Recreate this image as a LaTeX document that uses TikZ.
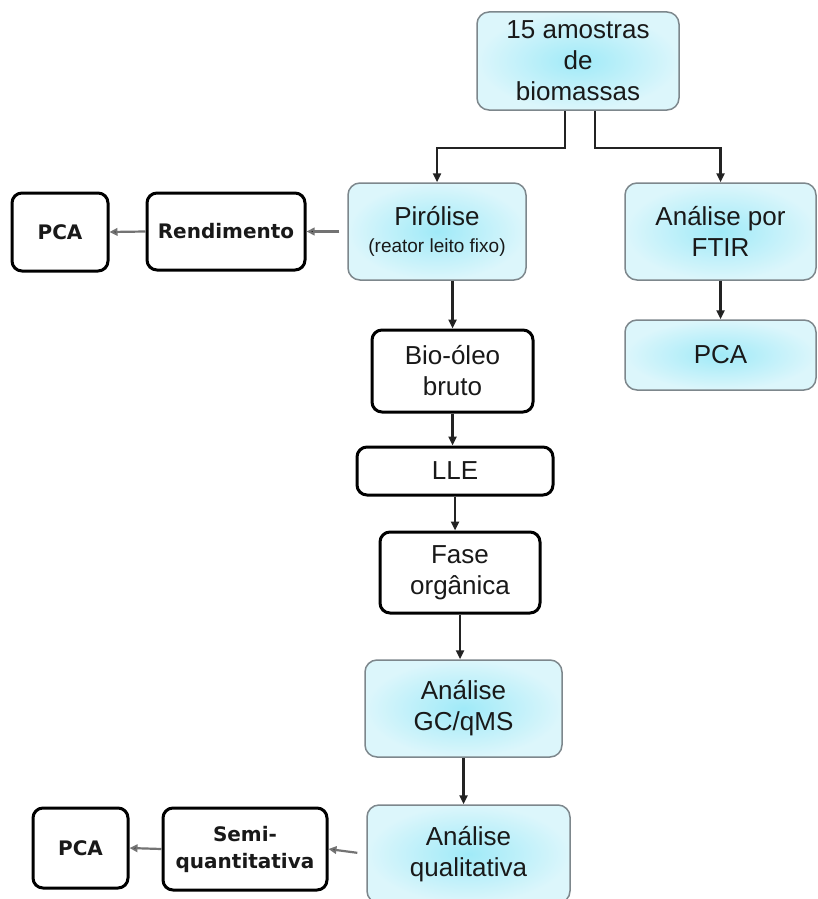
\documentclass[tikz,border=0pt]{standalone}
\usepackage{fontspec}
\setmainfont{Liberation Sans}
\newfontfamily\dvfont{DejaVu Sans}
\usetikzlibrary{arrows.meta,calc}
\definecolor{cyin}{RGB}{160,234,248}
\definecolor{cyout}{RGB}{220,246,251}
\definecolor{cyborder}{RGB}{125,135,140}
\definecolor{conn}{RGB}{35,35,35}
\begin{document}
\begin{tikzpicture}[x=1pt,y=-1pt,
  cbox/.style={draw=cyborder, line width=1.5pt, rounded corners=12pt,
    inner color=cyin, outer color=cyout, align=center,
    font=\fontsize{26}{31}\selectfont, text=black!90, inner sep=0pt},
  wbox/.style={draw=black, line width=3pt, rounded corners=10pt, fill=white,
    align=center, font=\fontsize{26}{31}\selectfont, text=black!90, inner sep=0pt},
  bbox/.style={wbox, font=\dvfont\bfseries\fontsize{20}{27}\selectfont},
  arr/.style={line width=2.4pt, draw=conn, -{Triangle[length=9pt,width=8pt,fill=black]}},
  harr/.style={line width=2.2pt, draw=black!55, -{Triangle[length=8pt,width=7.5pt,fill=black]}}
]
\useasboundingbox (0,0) rectangle (818,899);
\clip (0,0) rectangle (818,899);
\fill[white] (0,0) rectangle (818,899);

\node[cbox, minimum width=202pt, minimum height=98pt] (top) at (578,61) {15 amostras\\de\\biomassas};
\node[cbox, minimum width=178pt, minimum height=97pt] (pir) at (437,231.5) {Pirólise\\[-4pt]{\fontsize{19}{22}\selectfont(reator leito fixo)}};
\node[bbox, minimum width=158pt, minimum height=77pt] (rend) at (226,231.5) {Rendimento};
\node[bbox, minimum width=96pt, minimum height=78pt] (pcaL) at (60,232) {PCA};
\node[cbox, minimum width=191pt, minimum height=97pt] (ftir) at (720.5,231.5) {Análise por\\FTIR};
\node[cbox, minimum width=191pt, minimum height=70pt] (pcaR) at (720.5,355) {PCA};
\node[wbox, minimum width=161pt, minimum height=82pt] (bio) at (452.5,371) {Bio-óleo\\bruto};
\node[wbox, minimum width=196pt, minimum height=48pt] (lle) at (455,471) {LLE};
\node[wbox, minimum width=160pt, minimum height=81pt] (fase) at (460,572.5) {Fase\\orgânica};
\node[cbox, minimum width=197pt, minimum height=97pt] (gc) at (463.5,708.5) {Análise\\GC/qMS};
\node[cbox, minimum width=203pt, minimum height=98pt] (qual) at (468.5,854) {Análise\\qualitativa};
\node[bbox, minimum width=164pt, minimum height=82pt] (semi) at (245,849) {Semi-\\quantitativa};
\node[bbox, minimum width=95pt, minimum height=80pt] (pcaB) at (80.5,848) {PCA};

\draw[arr] ([xshift=-13pt]top.south) -- ++(0,37) -| (pir.north);
\draw[arr] ([xshift=17pt]top.south) -- ++(0,37) -| (ftir.north);
\draw[harr, shorten <=8pt] (pir.west) -- (rend.east);
\draw[harr] (rend.west) -- (pcaL.east);
\draw[arr] (pir.south -| bio.north) -- (bio.north);
\draw[arr] (bio.south) -- (bio.south |- lle.north);
\draw[arr] (lle.south) -- (lle.south |- fase.north);
\draw[arr] (fase.south) -- (fase.south |- gc.north);
\draw[arr] (gc.south) -- (gc.south |- qual.north);
\draw[arr] (ftir.south) -- (pcaR.north);
\draw[harr, shorten <=9pt] (qual.west) -- (semi.east);
\draw[harr] (semi.west) -- (pcaB.east);
\end{tikzpicture}
\end{document}
